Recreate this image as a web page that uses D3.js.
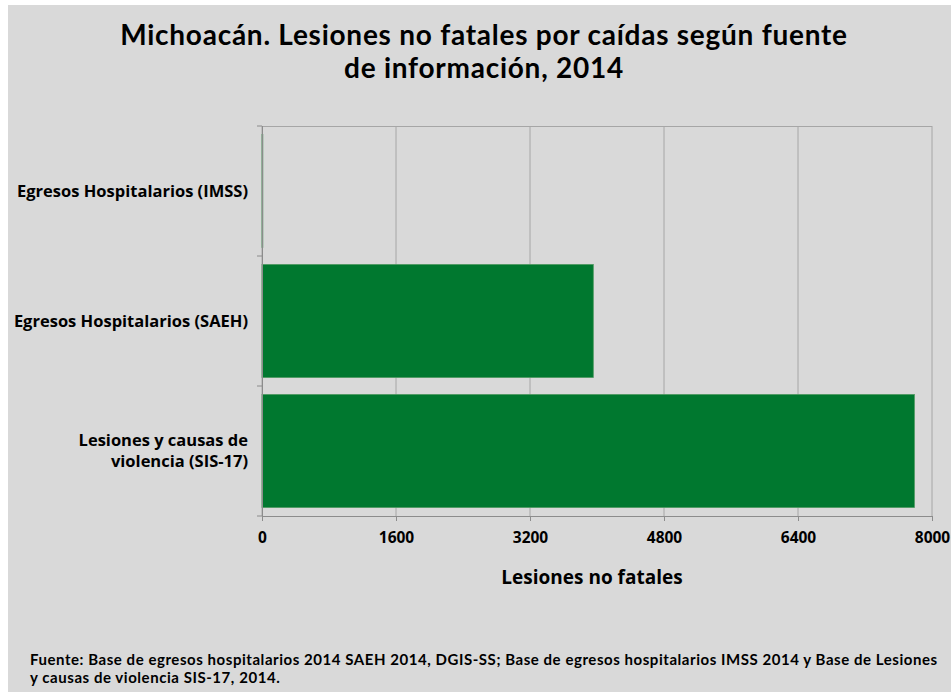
<!DOCTYPE html>
<html>
<head>
<meta charset="utf-8">
<script src="https://cdn.jsdelivr.net/npm/d3@7"></script>
<style>
  body { margin: 0; background: #fff; }
  text { font-family: "Open Sans", Lato, sans-serif; font-weight: bold; fill: #000; }
</style>
</head>
<body>
<div id="chart"></div>
<script>
// Chart data
let categories = ["Egresos Hospitalarios (IMSS)", "Egresos Hospitalarios (SAEH)", "Lesiones y causas de violencia (SIS-17)"];
let labelLines = [["Egresos Hospitalarios (IMSS)"], ["Egresos Hospitalarios (SAEH)"], ["Lesiones y causas de", "violencia (SIS-17)"]];
let values = [10, 3956, 7790];
let xTicks = [0, 1600, 3200, 4800, 6400, 8000];

let width = 951,
    height = 692,
    margin = {top: 126, right: 19, bottom: 176, left: 262};

let svg = d3.select("#chart")
      .append("svg")
      .attr("width", width)
      .attr("height", height);

// gray panel
svg.append("rect")
    .attr("x", 8).attr("y", 5)
    .attr("width", width - 8).attr("height", height - 5)
    .style("fill", "#d9d9d9");

let x = d3.scaleLinear()
      .domain([0, 8000])
      .range([margin.left, width - margin.right]);

let y = d3.scaleBand()
      .domain(categories)
      .range([margin.top, height - margin.bottom])
      .paddingInner(0.13)
      .paddingOuter(0.065);

// gridlines
svg.append("g")
    .selectAll("line")
    .data(xTicks)
    .enter().append("line")
    .attr("x1", d => x(d)).attr("x2", d => x(d))
    .attr("y1", margin.top).attr("y2", height - margin.bottom)
    .style("stroke", "#a6a6a6")
    .style("stroke-width", 1);

// top border of plot
svg.append("line")
    .attr("x1", margin.left).attr("x2", width - margin.right)
    .attr("y1", margin.top + 0.5).attr("y2", margin.top + 0.5)
    .style("stroke", "#a6a6a6");

// bars
svg.append("g")
    .selectAll("rect")
    .data(values)
    .enter().append("rect")
    .attr("x", x(0))
    .attr("y", (d, i) => y(categories[i]))
    .attr("width", d => x(d) - x(0))
    .attr("height", y.bandwidth())
    .style("fill", "#00782f")
    .style("stroke", "#4f9a62")
    .style("stroke-width", 0.8);

// x axis
let xAxis = svg.append("g")
      .attr("transform", "translate(0," + (height - margin.bottom) + ")")
      .call(d3.axisBottom(x).tickValues(xTicks).tickFormat(d3.format("d"))
            .tickSize(5).tickSizeOuter(0).tickPadding(11));
xAxis.select(".domain").style("stroke", "#8c8c8c");
xAxis.selectAll(".tick line").style("stroke", "#8c8c8c");
xAxis.selectAll(".tick text")
    .style("font-family", "'Open Sans', sans-serif")
    .style("font-weight", "bold")
    .style("font-size", "15.5px")
    .attr("fill", "#000");

// y axis (category separators)
svg.append("line")
    .attr("x1", margin.left + 0.5).attr("x2", margin.left + 0.5)
    .attr("y1", margin.top).attr("y2", height - margin.bottom + 5)
    .style("stroke", "#8c8c8c");

let step = (height - margin.bottom - margin.top) / categories.length;
svg.append("g")
    .selectAll("line")
    .data([0, 1, 2, 3])
    .enter().append("line")
    .attr("x1", margin.left - 5).attr("x2", margin.left)
    .attr("y1", d => margin.top + d * step).attr("y2", d => margin.top + d * step)
    .style("stroke", "#8c8c8c");

// category labels
let labels = svg.append("g")
      .selectAll("text")
      .data(labelLines)
      .enter().append("text")
      .attr("text-anchor", "end")
      .style("font-size", "16.5px")
      .attr("transform", (d, i) => "translate(248," + (y(categories[i]) + y.bandwidth() / 2) + ")");

labels.selectAll("tspan")
    .data(d => d.map((t, j) => ({t: t, j: j, n: d.length})))
    .enter().append("tspan")
    .attr("x", 0)
    .attr("y", d => (d.j - (d.n - 1) / 2) * 21)
    .attr("dy", "0.35em")
    .text(d => d.t);

// title
let title = svg.append("text")
      .attr("text-anchor", "middle")
      .style("font-family", "Lato, sans-serif")
      .style("font-size", "28px")
      .style("letter-spacing", "0.75px");
title.append("tspan").attr("x", 484).attr("y", 45)
    .text("Michoacán. Lesiones no fatales por caídas según fuente");
title.append("tspan").attr("x", 484).attr("y", 78)
    .text("de información, 2014");

// axis title
svg.append("text")
    .attr("x", 592).attr("y", 584)
    .attr("text-anchor", "middle")
    .style("font-size", "19px")
    .text("Lesiones no fatales");

// source
let source = svg.append("text")
      .style("font-family", "Lato, sans-serif")
      .style("font-size", "15px")
      .style("letter-spacing", "0.55px");
source.append("tspan").attr("x", 30).attr("y", 665)
    .text("Fuente: Base de egresos hospitalarios 2014 SAEH 2014, DGIS-SS; Base de egresos hospitalarios IMSS 2014 y Base de Lesiones");
source.append("tspan").attr("x", 30).attr("y", 683)
    .text("y causas de violencia SIS-17, 2014.");
</script>
</body>
</html>
